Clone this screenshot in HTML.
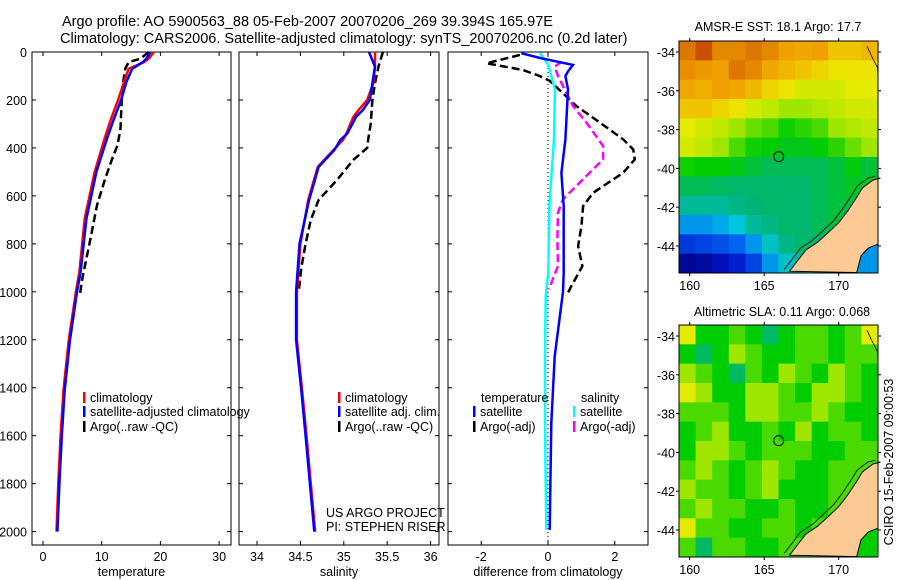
<!DOCTYPE html>
<html><head><meta charset="utf-8"><style>
body{margin:0;background:#fff;}
svg{display:block;font-family:"Liberation Sans",sans-serif;}
</style></head><body>
<svg id="fig" width="900" height="580" viewBox="0 0 900 580">
<text x="62" y="26" font-size="14.5">Argo profile: AO 5900563_88 05-Feb-2007 20070206_269 39.394S 165.97E</text>
<text x="60" y="43" font-size="14.5">Climatology: CARS2006. Satellite-adjusted climatology: synTS_20070206.nc (0.2d later)</text>
<text x="778" y="31" font-size="12.5" text-anchor="middle">AMSR-E SST: 18.1 Argo: 17.7</text>
<text x="782" y="316" font-size="12.5" text-anchor="middle">Altimetric SLA: 0.11 Argo: 0.068</text>
<text transform="translate(893,462) rotate(-90)" font-size="12.5" text-anchor="middle">CSIRO 15-Feb-2007 09:00:53</text>
<g id="g"></g>
</svg>
<script>
// ---- data ----
const tDepth=[0,28,42,70,125,200,278,361,500,695,917,1000,1200,1410,1600,1800,2000];
const tClim=[18.9,18.0,17.2,14.6,13.8,12.8,11.6,10.5,8.8,7.1,6.2,5.6,4.4,3.5,3.0,2.6,2.3];
const tSat=[18.3,17.6,17.0,15.2,14.2,13.3,12.1,10.9,9.1,7.4,6.4,5.8,4.6,3.7,3.2,2.8,2.45];
const aDepth=[0,28,42,70,153,320,389,444,528,639,778,945,1010];
const tArgo=[18.0,16.6,14.6,14.0,13.5,13.2,12.7,11.8,10.6,9.2,8.1,6.7,6.3];
const sDepth=[0,61,130,200,242,271,340,367,409,479,617,800,1000,1200,1410,1600,1800,2000];
const sClim=[35.36,35.36,35.34,35.27,35.17,35.11,35.03,34.99,34.88,34.70,34.59,34.50,34.46,34.46,34.52,34.57,34.62,34.67];
const sSat=[35.29,35.36,35.33,35.30,35.22,35.14,35.04,34.96,34.89,34.71,34.60,34.49,34.45,34.45,34.51,34.56,34.61,34.66];
const sArgoDepth=[0,61,130,200,300,367,400,450,534,617,700,800,900,1000];
const sArgo=[35.45,35.40,35.36,35.33,35.31,35.28,35.27,35.11,34.92,34.71,34.62,34.56,34.51,34.48];
const dBlueDepth=[5,25,54,81,100,156,365,504,643,921,1000,1270,1548,1993];
const dBlue=[-0.8,-0.24,0.75,0.6,0.52,0.6,0.52,0.4,0.47,0.47,0.45,0.2,0.1,0.05];
const dBlackDepth=[12,47,75,100,120,225,294,364,406,448,504,587,643,726,810,893,976,1018];
const dBlack=[-0.84,-1.84,-0.75,-0.25,0.05,0.85,1.55,2.25,2.55,2.6,2.25,1.35,1.05,1.0,0.9,1.03,0.7,0.55];
const dCyanDepth=[5,54,156,365,643,921,1018,1270,1548,1993];
const dCyan=[-0.24,0.01,0.21,0.18,0.04,0.01,-0.07,-0.09,-0.09,-0.05];
const dMagDepth=[40,61,100,225,294,392,448,531,614,670,781,893,948,990];
const dMag=[0.41,0.2,0.3,0.75,1.15,1.65,1.65,1.05,0.45,0.3,0.28,0.3,0.14,0.04];
const depthTicks=[0,200,400,600,800,1000,1200,1400,1600,1800,2000];
const tTicks=[0,10,20,30];
const sTicks=[34,34.5,35,35.5,36];
const dTicks=[-2,0,2];
const lonTicks=[160,165,170];
const latTicks=[-34,-36,-38,-40,-42,-44];
const sstGrid=[
[.9,.95,.88,.88,.9,.88,.85,.84,.85,.8,.8,.82],
[.87,.86,.85,.9,.88,.84,.82,.8,.78,.76,.76,.76],
[.84,.83,.85,.84,.82,.78,.76,.72,.72,.72,.74,.74],
[.8,.8,.78,.76,.72,.7,.66,.66,.68,.7,.72,.72],
[.74,.72,.7,.66,.62,.6,.56,.58,.6,.66,.68,.7],
[.72,.7,.66,.6,.56,.55,.53,.53,.55,.58,.62,.66],
[.56,.55,.55,.53,.5,.48,.48,.48,.48,.5,.54,.5],
[.48,.48,.47,.46,.46,.46,.46,.46,.48,.5,.52,.52],
[.42,.42,.42,.44,.45,.46,.46,.46,.48,.5,.5,.5],
[.3,.3,.32,.36,.42,.44,.46,.46,.48,.5,.48,.48],
[.18,.2,.22,.25,.3,.38,.44,.46,.46,.46,.4,.35],
[.05,.06,.1,.14,.2,.3,.38,.42,.44,.42,.3,.1]];
const slaGrid=[
[4,1,1,2,1,0,1,2,2,1,2,4],
[1,0,1,3,2,1,1,2,2,1,2,2],
[3,2,1,0,2,1,3,2,1,3,2,1],
[4,3,1,1,3,3,2,1,3,3,2,1],
[2,2,2,1,3,3,2,2,3,2,1,1],
[1,2,3,1,1,2,1,3,1,2,2,1],
[1,3,3,2,1,2,2,2,1,1,2,2],
[2,3,2,1,2,3,2,1,1,2,2,2],
[3,2,2,1,2,3,1,1,1,2,2,2],
[2,3,2,2,1,1,2,1,1,2,2,2],
[4,2,2,1,1,2,2,1,2,2,2,2],
[2,0,2,2,1,1,2,2,2,2,2,2]];
const slaLevels=[.47,.55,.6,.66,.74,.8];
const coastLon=[166.7,167.2,167.8,168.6,169.3,170.0,170.6,171.2,171.6,172.3,172.8];
const coastLat=[-45.3,-44.8,-44.2,-43.8,-43.3,-42.8,-42.2,-41.5,-41.0,-40.6,-40.5];
const argoLon=165.97, argoLat=-39.394;

const NS='http://www.w3.org/2000/svg';
const G=document.getElementById('g');
function el(tag,attrs,parent){const e=document.createElementNS(NS,tag);for(const k in attrs)e.setAttribute(k,attrs[k]);(parent||G).appendChild(e);return e;}
function txt(x,y,s,anchor,size,name){const t=el('text',{x:x,y:y,'font-size':size||12.5,'text-anchor':anchor||'start'});t.textContent=s;


return t;}

const yD=d=>52+d*0.2398;
const panels=[
 {L:32,R:231,x:v=>43+v*5.87,ticks:tTicks,lab:'temperature',name:'temperature'},
 {L:239,R:439,x:v=>257+(v-34)*86.8,ticks:sTicks,lab:'salinity',name:'salinity'},
 {L:448,R:648,x:v=>548+v*33.4,ticks:dTicks,lab:'difference from climatology',name:'difference'}];
panels.forEach((p,i)=>{
 const fr=el('rect',{x:p.L,y:52,width:p.R-p.L,height:493,fill:'none',stroke:'#000','stroke-width':1});
 
 
 depthTicks.forEach(d=>{el('line',{x1:p.L,x2:p.L+4,y1:yD(d),y2:yD(d),stroke:'#000'});el('line',{x1:p.R-4,x2:p.R,y1:yD(d),y2:yD(d),stroke:'#000'});
  if(i===0)txt(27,yD(d)+5,String(d),'end',12.5,'depth-tick-label');});
 p.ticks.forEach(v=>{const x=p.x(v);el('line',{x1:x,x2:x,y1:52,y2:56,stroke:'#000'});el('line',{x1:x,x2:x,y1:541,y2:545,stroke:'#000'});
  txt(x,561,String(v),'middle',12.5,p.name+'-tick-label');});
 txt((p.L+p.R)/2,576,p.lab,'middle',12.5,p.name+'-axis-title');
});
function line(p,vals,deps,color,dash,name){
 let pts=[];for(let k=0;k<vals.length;k++)pts.push(p.x(vals[k]).toFixed(1)+','+yD(deps[k]).toFixed(1));
 const a={points:pts.join(' '),fill:'none',stroke:color,'stroke-width':2.5};if(dash)a['stroke-dasharray']=dash;
 const e=el('polyline',a);
 
 
}
el('line',{x1:548,x2:548,y1:52,y2:545,stroke:'#000','stroke-dasharray':'1 3'});
line(panels[0],tArgo,aDepth,'#000','8 4','temp-argo-line');
line(panels[0],tClim,tDepth,'#f00',null,'temp-climatology-line');
line(panels[0],tSat,tDepth,'#00f',null,'temp-satellite-line');
line(panels[1],sArgo,sArgoDepth,'#000','8 4','sal-argo-line');
line(panels[1],sClim,sDepth,'#f00',null,'sal-climatology-line');
line(panels[1],sSat,sDepth,'#00f',null,'sal-satellite-line');
line(panels[2],dBlack,dBlackDepth,'#000','8 4','diff-temp-argo-line');
line(panels[2],dMag,dMagDepth,'#f0f','8 4','diff-sal-argo-line');
line(panels[2],dCyan,dCyanDepth,'#0ff',null,'diff-sal-satellite-line');
line(panels[2],dBlue,dBlueDepth,'#00f',null,'diff-temp-satellite-line');

function leg(x,y,color,label,name){el('rect',{x:x,y:y-10,width:2.5,height:11,fill:color});txt(x+7,y,label,'start',12.5,name);}
leg(83,402,'#f00','climatology','legend-climatology');
leg(83,416,'#00f','satellite-adjusted climatology','legend-satellite-adjusted');
leg(83,431,'#000','Argo(..raw -QC)','legend-argo');
leg(338,402,'#f00','climatology','legend-sal-climatology');
leg(338,416,'#00f','satellite adj. clim.','legend-sal-satellite');
leg(338,431,'#000','Argo(..raw -QC)','legend-sal-argo');
txt(481,402,'temperature','start',12.5,'legend-temperature-header');
leg(473,416,'#00f','satellite','legend-temp-satellite');
leg(473,431,'#000','Argo(-adj)','legend-temp-argo');
txt(581,402,'salinity','start',12.5,'legend-salinity-header');
leg(573,416,'#0ff','satellite','legend-sal-sat');
leg(573,431,'#f0f','Argo(-adj)','legend-sal-argo-adj');
txt(326,517,'US ARGO PROJECT','start',12.5,'project-label');
txt(326,531,'PI: STEPHEN RISER','start',12.5,'pi-label');

const stops=[[0,0,0,110],[.12,0,20,200],[.25,0,100,240],[.35,0,200,230],[.45,0,180,120],[.55,0,205,0],[.65,150,230,0],[.75,235,235,0],[.85,240,160,0],[1,180,40,0]];
function cmap(v){for(let i=1;i<stops.length;i++){if(v<=stops[i][0]){const a=stops[i-1],b=stops[i],t=(v-a[0])/(b[0]-a[0]);
 return 'rgb('+[1,2,3].map(j=>Math.round(a[j]+t*(b[j]-a[j]))).join(',')+')';}}return 'rgb(180,40,0)';}

function map(top,bot,lat34,lat44,grid,valf,name){
 const L=679,R=878;
 const xL=lon=>689.7+(lon-160)*14.9;
 const yL=lat=>lat34+(-34-lat)*(lat44-lat34)/10;
 const rows=grid.length,cols=grid[0].length,cw=(R-L)/cols,ch=(bot-top)/rows;
 grid.forEach((r,i)=>r.forEach((v,j)=>{el('rect',{x:L+j*cw,y:top+i*ch,width:cw+0.5,height:ch+0.5,fill:cmap(valf(v))});}));
 let pts=coastLon.map((lo,k)=>xL(lo).toFixed(1)+','+yL(coastLat[k]).toFixed(1));
 pts.push(R+','+yL(-40.5).toFixed(1));pts.push(R+','+bot);
 const land=el('polygon',{points:pts.join(' '),fill:'#fdca96',stroke:'#000','stroke-width':1});
 
 
 el('polygon',{points:[xL(171.2)+','+bot,xL(171.5)+','+yL(-44.5),xL(172)+','+yL(-44.1),R+','+yL(-43.9),R+','+bot].join(' '),fill:cmap(valf(name==='sst'?0.3:1)),stroke:'#000','stroke-width':1});
 let off=coastLon.map((lo,k)=>xL(lo-0.35).toFixed(1)+','+yL(coastLat[k]+0.1).toFixed(1));
 el('polyline',{points:off.join(' '),fill:'none',stroke:'#000','stroke-width':0.8});
 el('polyline',{points:[xL(171.9)+','+yL(-33.7),xL(172.2)+','+yL(-34.2),xL(172.6)+','+yL(-34.8),R+','+yL(-35.3)].join(' '),fill:'none',stroke:'#000','stroke-width':0.8});
 const fr=el('rect',{x:L,y:top,width:R-L,height:bot-top,fill:'none',stroke:'#000','stroke-width':1});
 
 
 lonTicks.forEach(lo=>{const x=xL(lo);el('line',{x1:x,x2:x,y1:top-3,y2:top,stroke:'#000'});el('line',{x1:x,x2:x,y1:bot,y2:bot+3,stroke:'#000'});txt(x,bot+17,String(lo),'middle',12.5,name+'-lon-label');});
 latTicks.forEach(la=>{const y=yL(la);el('line',{x1:L-3,x2:L,y1:y,y2:y,stroke:'#000'});el('line',{x1:R,x2:R+3,y1:y,y2:y,stroke:'#000'});txt(L-4,y+5,String(la),'end',12.5,name+'-lat-label');});
 const c=el('circle',{cx:xL(argoLon),cy:yL(argoLat),r:5,fill:'none',stroke:'#000','stroke-width':1});
 
 
}
map(41,273,52,246,sstGrid,v=>v,'sst');
map(325,557,336,530,slaGrid,v=>slaLevels[v],'sla');
</script>
</body></html>
